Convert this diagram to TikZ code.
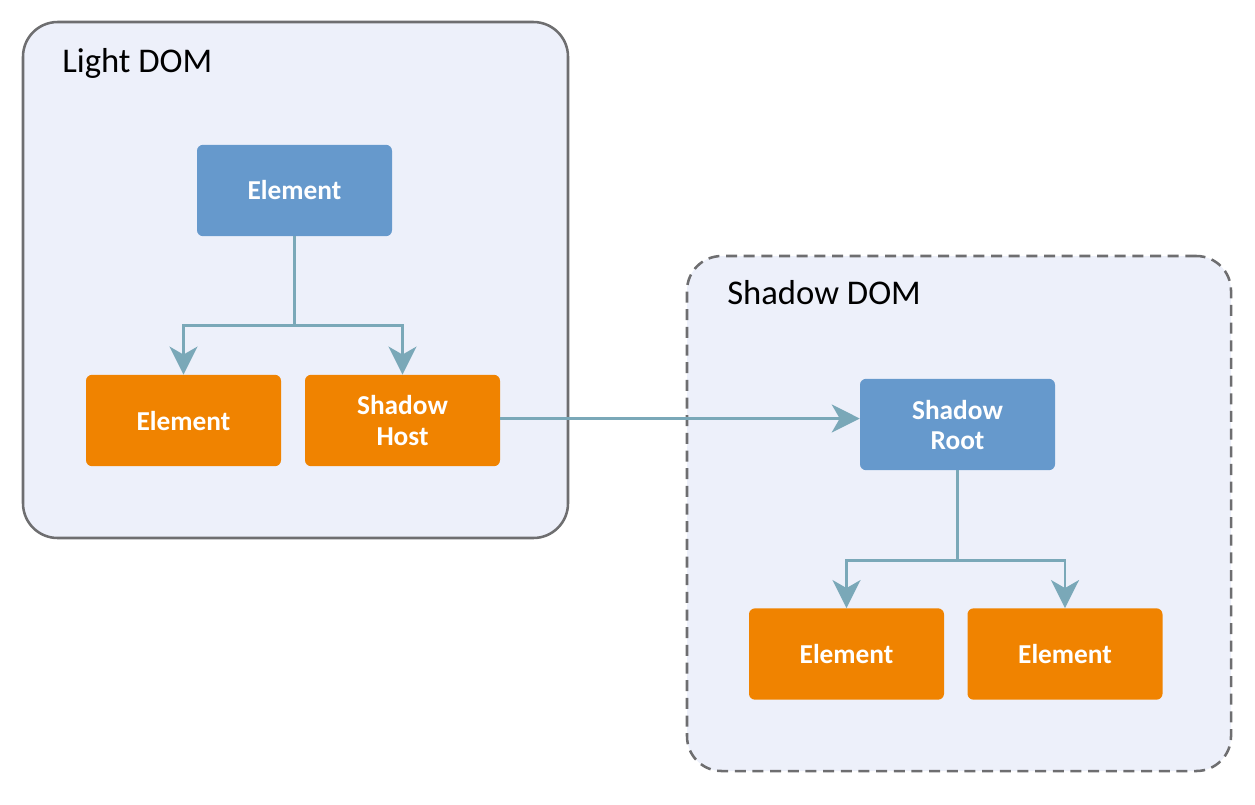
\documentclass[tikz,border=0pt]{standalone}
\usepackage{fontspec}
\setmainfont{Carlito}
\usetikzlibrary{arrows.meta}
\definecolor{cfill}{HTML}{EDF0FA}
\definecolor{cborder}{HTML}{6E6E70}
\definecolor{cblue}{HTML}{6699CC}
\definecolor{corange}{HTML}{F08300}
\definecolor{cconn}{HTML}{7AA8B8}
\tikzset{
  container/.style={draw=cborder, fill=cfill, line width=1.9pt, rounded corners=26pt, inner sep=0pt},
  title/.style={anchor=base west, inner sep=0pt, font=\fontsize{26}{30}\selectfont, text=black},
  box/.style={rounded corners=4.5pt, inner sep=0pt, minimum width=146.25pt, minimum height=68.5pt,
     text=white, align=center, font=\fontsize{20.5}{22.5}\selectfont\bfseries},
  bluebox/.style={box, fill=cblue},
  orangebox/.style={box, fill=corange},
  conn/.style={draw=cconn, line width=2pt, -{Stealth[length=21pt, width=21pt, inset=6pt]}},
}
\begin{document}
\begin{tikzpicture}[x=0.75pt, y=-0.75pt]
\useasboundingbox (0,0) rectangle (1255,804);
\node[container, minimum width=408.75pt, minimum height=387pt] (light) at (295.5,280) {};
\node[container, dash pattern=on 8.25pt off 5pt, minimum width=408pt, minimum height=386.25pt] (shadow) at (959,513.5) {};
\node[title] (lt) at (62,72) {Light DOM};
\node[title] (st) at (727,304) {Shadow DOM};
\node[bluebox] (top) at (294.5,190.5) {Element};
\node[orangebox] (el1) at (183.5,420.5) {Element};
\node[orangebox] (host) at (402.5,420.5) {Shadow\\Host};
\node[bluebox] (root) at (957.5,424.5) {Shadow\\Root};
\node[orangebox] (el2) at (846.5,654) {Element};
\node[orangebox] (el3) at (1065,654) {Element};
\draw[conn] (top.south) -- ++(0,89) -| (el1.north);
\draw[conn] (top.south) -- ++(0,89) -| (host.north);
\draw[conn] ([yshift=1.5pt]host.east) -- ([yshift=1.5pt]host.east -| root.west);
\draw[conn] (root.south) -- ++(0,90) -| (el2.north);
\draw[conn] (root.south) -- ++(0,90) -| (el3.north);
\end{tikzpicture}
\end{document}
